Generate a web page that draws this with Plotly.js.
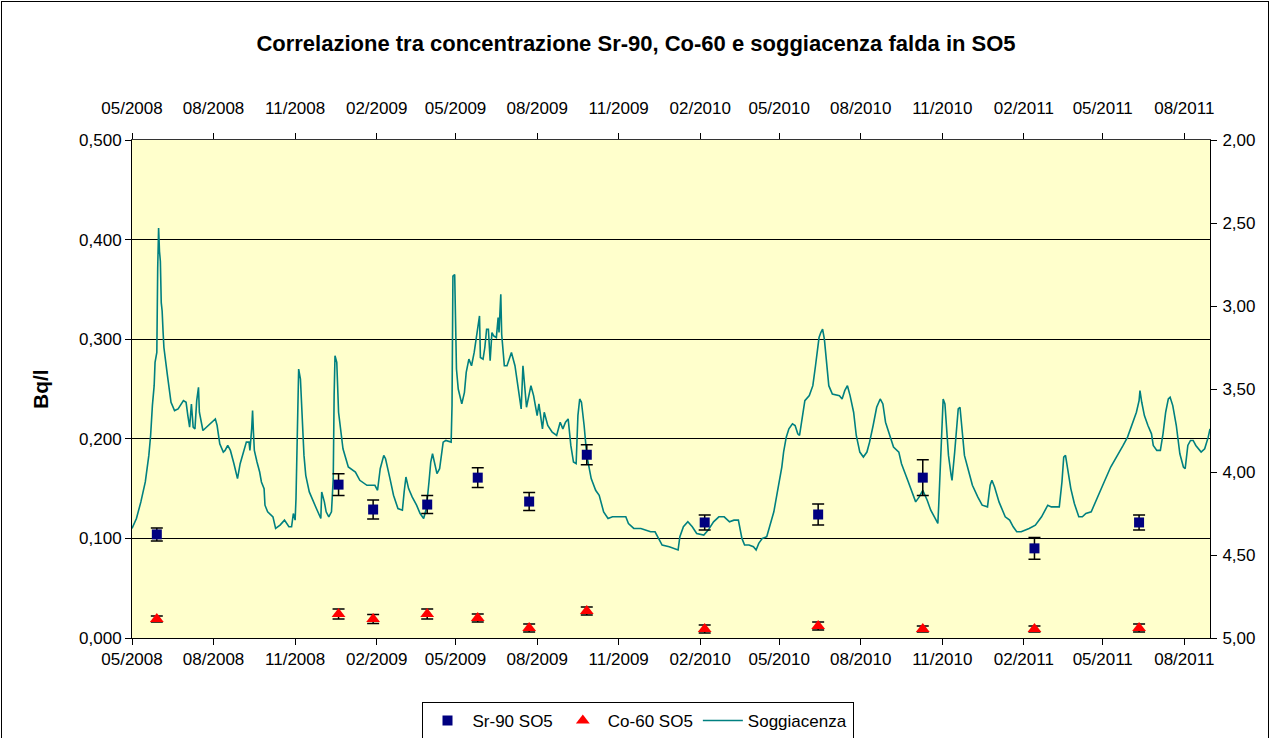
<!DOCTYPE html>
<html>
<head>
<meta charset="utf-8">
<script src="https://cdn.plot.ly/plotly-3.0.1.min.js"></script>
<style>
html,body{margin:0;padding:0;background:#fff;}
#wrap{position:relative;width:1272px;height:738px;}
#chart{width:1272px;height:738px;}
#frame{position:absolute;left:1px;top:1px;width:1268px;height:740px;border:1px solid #000;pointer-events:none;box-sizing:border-box;}
</style>
</head>
<body>
<div id="wrap"><div id="chart"></div><div id="frame"></div></div>
<script>
// Campionamenti (date) e concentrazioni [Bq/l]
const dateCampioni = ['2008-05-29','2008-12-20','2009-01-28','2009-03-30','2009-05-26','2009-07-23','2009-09-26','2010-02-06','2010-06-14','2010-10-10','2011-02-13','2011-06-11'];
const sr90 = [0.104,0.154,0.129,0.134,0.161,0.137,0.184,0.116,0.124,0.161,0.090,0.116];
const sr90Err = [0.0065,0.011,0.0095,0.009,0.010,0.009,0.010,0.0075,0.0105,0.018,0.011,0.0075];
const co60 = [0.019,0.024,0.019,0.024,0.020,0.010,0.027,0.009,0.012,0.009,0.009,0.010];
const co60Err = [0.003,0.005,0.0045,0.005,0.004,0.004,0.004,0.004,0.004,0.003,0.003,0.004];

// Soggiacenza falda [m]: giorni dal 01/05/2008 e valori
const soggGiorni = [0,5,10,15,19,21,23,25,26,28,29,30,31,32,33,34,35,36,40,44,48,52,58,61,63,65,67,69,71,73,75,76,80,88,94,96,99,103,105,108,111,115,119,122,127,129,132,133,135,136,137,138,141,144,146,149,150,153,159,162,167,172,177,180,182,184,185,187,188,190,192,194,196,200,208,213,214,217,219,222,225,227,228,229,231,233,238,243,
244,252,257,265,274,277,280,284,286,291,295,300,305,307,309,312,316,321,325,329,332,335,337,339,341,344,347,350,351,354,360,361,362,364,365,366,368,372,375,377,380,383,386,389,392,393,396,398,400,402,404,406,408,411,413,414,416,417,420,423,428,432,435,439,441,443,445,450,453,457,459,463,465,469,474,479,483,486,
489,492,495,498,501,503,505,507,510,513,518,523,527,532,537,542,557,560,566,574,579,585,590,594,598,606,611,616,618,622,627,632,637,645,650,656,662,668,674,679,684,688,691,696,701,704,707,711,716,720,724,728,733,
735,738,741,745,748,751,753,756,759,764,768,771,775,777,779,781,783,786,790,798,801,804,807,810,814,817,821,825,829,832,836,840,844,847,850,855,859,865,868,875,880,884,888,892,897,901,906,909,910,912,914,915,917,919,921,924,925,928,930,932,934,936,939,944,948,954,959,965,968,970,973,978,
981,985,990,994,998,1003,1012,1019,1026,1033,1037,1046,1049,1051,1053,1055,1059,1063,1068,1072,1076,1082,1088,1095,1104,1112,1118,1123,1129,1133,1136,1137,1139,1142,1146,1150,1152,1156,1160,1163,1166,1169,1171,1174,1178,1182,1186,1188,1191,1194,1197,1200,1206,1210,1214,1216];
const soggValori = [4.34,4.28,4.18,4.06,3.90,3.78,3.60,3.48,3.34,3.28,2.77,2.53,2.67,2.73,2.98,3.03,3.15,3.25,3.42,3.58,3.63,3.62,3.57,3.58,3.66,3.73,3.59,3.73,3.74,3.57,3.49,3.64,3.75,3.71,3.68,3.72,3.83,3.88,3.87,3.84,3.87,3.95,4.04,3.95,3.86,3.82,3.82,3.87,3.74,3.63,3.76,3.87,3.94,4.00,4.06,4.10,4.20,4.24,4.27,4.34,4.32,4.29,4.33,4.33,4.25,4.29,4.16,3.58,3.38,3.44,3.70,3.90,4.02,4.12,4.22,4.28,4.12,4.18,4.24,4.27,4.24,4.04,3.54,3.30,3.34,3.64,3.86,3.96,
3.97,4.00,4.05,4.08,4.08,4.11,3.98,3.90,3.92,4.04,4.14,4.22,4.23,4.12,4.03,4.10,4.15,4.20,4.25,4.28,4.22,4.06,3.94,3.89,3.94,4.01,3.98,3.88,3.82,3.81,3.82,3.60,2.82,2.81,3.03,3.38,3.50,3.59,3.52,3.40,3.32,3.36,3.28,3.18,3.06,3.31,3.32,3.25,3.14,3.14,3.33,3.16,3.18,3.19,3.07,3.16,2.93,3.17,3.36,3.36,3.28,3.36,3.48,3.62,3.36,3.50,3.61,3.48,3.54,3.66,3.59,3.74,3.64,3.72,3.76,3.78,3.70,3.74,
3.70,3.68,3.84,3.94,3.95,3.66,3.56,3.58,3.72,3.90,4.04,4.11,4.14,4.24,4.28,4.27,4.27,4.31,4.34,4.34,4.35,4.36,4.36,4.40,4.44,4.45,4.46,4.47,4.39,4.33,4.30,4.33,4.37,4.38,4.35,4.30,4.27,4.27,4.30,4.29,4.29,4.40,4.44,4.44,4.45,4.47,4.43,4.40,4.39,4.32,4.24,4.12,3.97,
3.88,3.79,3.74,3.71,3.72,3.77,3.78,3.66,3.57,3.54,3.48,3.36,3.19,3.16,3.14,3.20,3.32,3.48,3.53,3.54,3.56,3.51,3.48,3.54,3.64,3.78,3.88,3.91,3.88,3.82,3.72,3.61,3.56,3.59,3.70,3.79,3.85,3.88,3.95,4.05,4.13,4.18,4.15,4.11,4.17,4.23,4.28,4.31,4.20,3.90,3.64,3.56,3.59,3.76,3.90,4.02,4.05,3.88,3.72,3.62,3.61,3.72,3.90,4.00,4.08,4.15,4.20,4.21,4.08,4.05,4.09,4.18,
4.22,4.27,4.29,4.33,4.36,4.36,4.34,4.32,4.27,4.20,4.21,4.21,4.06,3.91,3.90,3.97,4.10,4.19,4.27,4.27,4.25,4.24,4.17,4.08,3.97,3.90,3.84,3.79,3.70,3.64,3.57,3.51,3.58,3.66,3.72,3.77,3.84,3.87,3.87,3.77,3.64,3.56,3.55,3.60,3.72,3.89,3.97,3.98,3.84,3.81,3.81,3.84,3.88,3.86,3.79,3.74];

const titolo = 'Correlazione tra concentrazione Sr-90, Co-60 e soggiacenza falda in SO5';
const nomiSerie = ['Sr-90 SO5','Co-60 SO5','Soggiacenza'];
const xRange = ['2008-05-01','2011-08-30'];

const base = Date.UTC(2008,4,1);
const soggDate = soggGiorni.map(d => new Date(base + d*864e5).toISOString().slice(0,10));

const FONT = 'Liberation Sans, Arial, sans-serif';
const TICKF = {family: FONT, size: 17, color: '#000'};

const traces = [
  {x: soggDate, y: soggValori, xaxis: 'x', yaxis: 'y', type: 'scatter', mode: 'lines',
   name: nomiSerie[2], legendrank: 3, line: {color: '#008080', width: 1.6}},
  {x: dateCampioni, y: sr90, xaxis: 'x2', yaxis: 'y2', type: 'scatter', mode: 'markers',
   name: nomiSerie[0], legendrank: 1,
   marker: {symbol: 'square', size: 10, color: '#000080'},
   error_y: {type: 'data', array: sr90Err, visible: true, color: '#000', thickness: 1.5, width: 6}},
  {x: dateCampioni, y: co60, xaxis: 'x2', yaxis: 'y2', type: 'scatter', mode: 'markers',
   name: nomiSerie[1], legendrank: 2,
   marker: {symbol: 'triangle-up', size: 12, color: '#FF0000'},
   error_y: {type: 'data', array: co60Err, visible: true, color: '#000', thickness: 1.5, width: 6}}
];

const layout = {
  width: 1272, height: 738,
  margin: {l: 132, r: 62, t: 140, b: 100, pad: 0, autoexpand: false},
  paper_bgcolor: '#fff', plot_bgcolor: '#FFFFCC',
  separators: ',.',
  font: {family: FONT, color: '#000'},
  showlegend: true,
  title: {text: titolo, font: {family: FONT, size: 22, color: '#000', weight: 'bold'},
          x: 0.5, xref: 'container', xanchor: 'center', y: 1 - 43/738, yref: 'container', yanchor: 'middle'},
  xaxis: {type: 'date', side: 'top', range: xRange, tickformat: '%m/%Y', dtick: 'M3', tick0: '2008-05-01',
          ticks: 'outside', ticklen: 6, tickcolor: '#000', showline: true, linecolor: '#333', linewidth: 1,
          showgrid: false, zeroline: false, tickfont: TICKF, ticklabelstandoff: 12, anchor: 'y'},
  yaxis: {side: 'right', range: [5, 2], dtick: 0.5, tick0: 2, tickformat: '.2f', ticks: 'outside', ticklen: 6,
          tickcolor: '#000', showline: true, linecolor: '#000', linewidth: 1, showgrid: false, zeroline: false,
          tickfont: TICKF, ticklabelstandoff: 2, anchor: 'x'},
  xaxis2: {type: 'date', side: 'bottom', overlaying: 'x', anchor: 'y2', range: xRange, tickformat: '%m/%Y', dtick: 'M3',
           tick0: '2008-05-01', ticks: 'outside', ticklen: 6, tickcolor: '#000', showline: true, linecolor: '#000',
           linewidth: 1, showgrid: false, zeroline: false, tickfont: TICKF},
  yaxis2: {side: 'left', overlaying: 'y', anchor: 'x2', range: [0, 0.5], dtick: 0.1, tick0: 0, tickformat: '.3f',
           ticks: 'outside', ticklen: 6, tickcolor: '#000', showline: true, linecolor: '#000', linewidth: 1,
           showgrid: true, gridcolor: '#000', gridwidth: 1, zeroline: false, tickfont: TICKF},
  legend: {orientation: 'h', x: (637.5-132)/1078, xanchor: 'center', y: (638-702)/498, yanchor: 'top',
           bgcolor: '#fff', bordercolor: '#000', borderwidth: 1, font: {family: FONT, size: 17, color: '#000'},
           traceorder: 'normal', itemwidth: 40},
  annotations: [{text: '<b>Bq/l</b>', xref: 'paper', yref: 'paper', x: (40-132)/1078, y: 0.5,
                 xanchor: 'center', yanchor: 'middle', textangle: -90, showarrow: false,
                 font: {family: FONT, size: 21, color: '#000'}}]
};

Plotly.newPlot('chart', traces, layout, {displayModeBar: false, staticPlot: true});
</script>
</body>
</html>
